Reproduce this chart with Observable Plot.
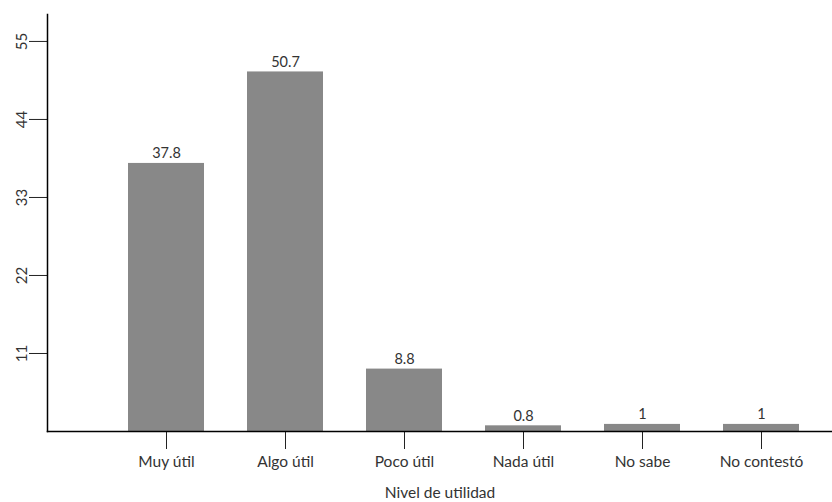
<!DOCTYPE html>
<html>
<head>
<meta charset="utf-8">
<script src="https://cdn.jsdelivr.net/npm/d3@7"></script>
<script src="https://cdn.jsdelivr.net/npm/@observablehq/plot@0.6"></script>
<style>
  html, body { margin: 0; padding: 0; background: #fff; }
  #chart svg { display: block; }
</style>
</head>
<body>
<div id="chart"></div>
<script>
const categories = ["Muy útil", "Algo útil", "Poco útil", "Nada útil", "No sabe", "No contestó"];
const values = [37.8, 50.7, 8.8, 0.8, 1, 1];
const yTicks = [11, 22, 33, 44, 55];
const xLabel = "Nivel de utilidad";

const data = categories.map((c, i) => ({cat: c, value: values[i]}));

const chart = Plot.plot({
  width: 832,
  height: 502,
  marginLeft: 47,
  marginRight: 0,
  marginTop: 14,
  marginBottom: 71,
  style: {fontFamily: "Lato, sans-serif", fontSize: "15px", color: "#333", background: "#fff"},
  x: {domain: categories, range: [106.5, 821.5], paddingInner: 0.36, paddingOuter: 0.18, label: null},
  y: {domain: [0, 58.8], label: null},
  marks: [
    Plot.barY(data, {x: "cat", y: "value", fill: "#888888"}),
    Plot.text(data, {x: "cat", y: "value", text: d => String(d.value), lineAnchor: "bottom", dy: -5, fill: "#333", fontSize: 14.5}),
    Plot.axisX({tickSize: 18, tickPadding: 6, label: null, stroke: "#222", fill: "#333", fontSize: 15.5}),
    Plot.axisY({ticks: yTicks, tickSize: 18, tickRotate: -90, tickPadding: 3, label: null, stroke: "#222", fill: "#333", fontSize: 15}),
    Plot.frame({anchor: "left", stroke: "#000", strokeWidth: 1.5}),
    Plot.frame({anchor: "bottom", stroke: "#000", strokeWidth: 1.5}),
    Plot.text([xLabel], {frameAnchor: "bottom", lineAnchor: "bottom", dy: 66, fill: "#333", fontSize: 15.5})
  ]
});
document.getElementById("chart").appendChild(chart);
</script>
</body>
</html>
